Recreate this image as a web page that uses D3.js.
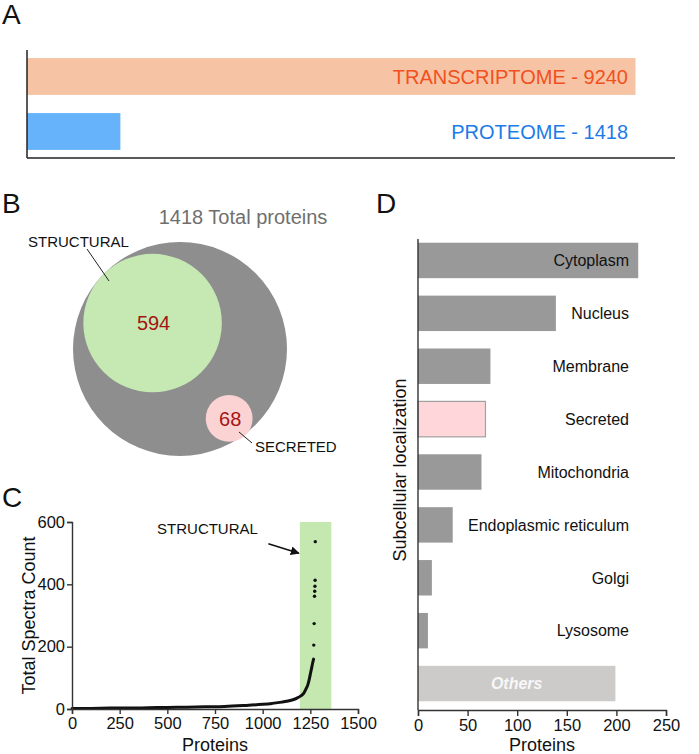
<!DOCTYPE html>
<html>
<head>
<meta charset="utf-8">
<script src="https://cdn.jsdelivr.net/npm/d3@7"></script>
<style>
  body { margin: 0; background: #fff; }
  svg { font-family: "Liberation Sans", Arial, Helvetica, sans-serif; }
  .axis path, .axis line { stroke: #333; stroke-width: 1.4; }
  .axis text { font-size: 16.5px; fill: #111; }
</style>
</head>
<body>
<div id="chart"></div>
<script>
// panel A
const omicsLabels = ["TRANSCRIPTOME", "PROTEOME"]
const omicsCounts = [9240, 1418]

// panel B
const vennNames = ["Total proteins", "STRUCTURAL", "SECRETED"]
const vennCounts = [1418, 594, 68]

// panel C (ranked proteins)
const spectraRank = [0, 100, 200, 300, 400, 500, 600, 700, 800, 900, 1000, 1050, 1100, 1150, 1180, 1200, 1215, 1228, 1238, 1246, 1252, 1258, 1263, 1267]
const spectraCount = [2, 2, 3, 3, 4, 5, 6, 7, 8, 11, 15, 18, 22, 28, 35, 42, 50, 65, 80, 100, 118, 135, 150, 160]
const outlierRank = [1268, 1270, 1272, 1273, 1274, 1275, 1276]
const outlierCount = [205, 274, 362, 378, 394, 413, 537]
const structuralRange = [1195, 1360]
const spectraXTicks = [0, 250, 500, 750, 1000, 1250, 1500]
const spectraYTicks = [0, 200, 400, 600]

// panel D
const locations = ["Cytoplasm", "Nucleus", "Membrane", "Secreted", "Mitochondria", "Endoplasmic reticulum", "Golgi", "Lysosome", "Others"]
const locationCounts = [222, 139, 73, 68, 64, 35, 14, 10, 199]
const locationTicks = [0, 50, 100, 150, 200, 250]

const width = 699
const height = 754

const svg = d3.select('#chart')
  .append('svg')
  .attr('width', width)
  .attr('height', height)

svg.append('defs').append('marker')
  .attr('id', 'arrow')
  .attr('viewBox', '0 0 10 10')
  .attr('refX', 9).attr('refY', 5)
  .attr('markerWidth', 9).attr('markerHeight', 9)
  .attr('markerUnits', 'userSpaceOnUse')
  .attr('orient', 'auto')
  .append('path')
  .attr('d', 'M0,0 L10,5 L0,10 z')
  .attr('fill', '#111')

function panelLabel(t, x, y) {
  svg.append('text').attr('x', x).attr('y', y)
    .attr('font-size', 28).attr('fill', '#111').text(t)
}

panelLabel('A', 2, 24)
panelLabel('B', 2, 213)
panelLabel('C', 2, 507)
panelLabel('D', 376, 213)

// ---------- A ----------
const xA = d3.scaleLinear().domain([0, 9840]).range([27, 675])
const yA = d3.scaleBand().domain(omicsLabels).range([50, 158])
  .paddingInner(0.33).paddingOuter(0.147)
const barColA = ["#f6c4a4", "#66b3fc"]
const txtColA = ["#f2501e", "#1c7be8"]

const gA = svg.append('g')
gA.selectAll('rect').data(omicsLabels).join('rect')
  .attr('x', xA(0))
  .attr('y', d => yA(d))
  .attr('width', (d, i) => xA(omicsCounts[i]) - xA(0))
  .attr('height', yA.bandwidth())
  .attr('fill', (d, i) => barColA[i])
gA.selectAll('text').data(omicsLabels).join('text')
  .attr('x', 628)
  .attr('y', d => yA(d) + yA.bandwidth() / 2)
  .attr('dy', '0.36em')
  .attr('text-anchor', 'end')
  .attr('font-size', 20)
  .attr('fill', (d, i) => txtColA[i])
  .text((d, i) => d + ' - ' + omicsCounts[i])
gA.append('line').attr('x1', 27).attr('x2', 27).attr('y1', 50).attr('y2', 158)
  .attr('stroke', '#222').attr('stroke-width', 1.5)
gA.append('line').attr('x1', 27).attr('x2', 675).attr('y1', 158).attr('y2', 158)
  .attr('stroke', '#222').attr('stroke-width', 1.5)

// ---------- B ----------
const rScale = d3.scaleSqrt().domain([0, vennCounts[0]]).range([0, 107])
const bigC = [180, 349]
const innerAngle = [null, -136.6, 54.7]
const vennFill = ["#8e8e8e", "#c6e9b4", "#fcd3d3"]
const vennNodes = vennCounts.map((v, i) => {
  const r = rScale(v)
  if (i === 0) return { name: vennNames[i], v, r, cx: bigC[0], cy: bigC[1] }
  const a = innerAngle[i] * Math.PI / 180
  const dist = rScale(vennCounts[0]) - r + (i === 2 ? 1.5 : 0)
  return { name: vennNames[i], v, r, cx: bigC[0] + dist * Math.cos(a), cy: bigC[1] + dist * Math.sin(a) }
})

const gB = svg.append('g')
gB.selectAll('circle').data(vennNodes).join('circle')
  .attr('cx', d => d.cx).attr('cy', d => d.cy).attr('r', d => d.r)
  .attr('fill', (d, i) => vennFill[i])
gB.selectAll('text.num').data(vennNodes.slice(1)).join('text')
  .attr('class', 'num')
  .attr('x', d => d.cx + 1)
  .attr('y', d => d.cy)
  .attr('dy', '0.36em')
  .attr('text-anchor', 'middle')
  .attr('font-size', 20)
  .attr('fill', '#a31515')
  .text(d => d.v)
gB.append('text').attr('x', 243).attr('y', 224).attr('text-anchor', 'middle')
  .attr('font-size', 20).attr('fill', '#6f6f6f')
  .text(vennCounts[0] + ' Total proteins')
gB.append('text').attr('x', 28).attr('y', 247).attr('font-size', 15).attr('fill', '#111').text(vennNames[1])
gB.append('line').attr('x1', 87).attr('y1', 249).attr('x2', 109).attr('y2', 281)
  .attr('stroke', '#222').attr('stroke-width', 1)
gB.append('text').attr('x', 255).attr('y', 452).attr('font-size', 15).attr('fill', '#111').text(vennNames[2])
gB.append('line').attr('x1', 239).attr('y1', 432).attr('x2', 252).attr('y2', 443)
  .attr('stroke', '#222').attr('stroke-width', 1)

// ---------- C ----------
const xC = d3.scaleLinear().domain([0, 1500]).range([72, 358])
const yC = d3.scaleLinear().domain([0, 600]).range([709, 522])
const gC = svg.append('g')

gC.append('rect')
  .attr('x', xC(structuralRange[0]))
  .attr('y', yC(600))
  .attr('width', xC(structuralRange[1]) - xC(structuralRange[0]))
  .attr('height', yC(0) - yC(600))
  .attr('fill', '#c5e8b0')

const curve = spectraRank.map((r, i) => [r, spectraCount[i]])
gC.append('path')
  .datum(curve)
  .attr('d', d3.line().x(d => xC(d[0])).y(d => yC(d[1])).curve(d3.curveMonotoneX))
  .attr('fill', 'none')
  .attr('stroke', '#111')
  .attr('stroke-width', 3)
  .attr('stroke-linecap', 'round')
gC.selectAll('circle').data(outlierRank).join('circle')
  .attr('cx', d => xC(d))
  .attr('cy', (d, i) => yC(outlierCount[i]))
  .attr('r', 1.7)
  .attr('fill', '#111')

gC.append('g').attr('class', 'axis')
  .attr('transform', `translate(0,${yC(0)})`)
  .call(d3.axisBottom(xC).tickValues(spectraXTicks).tickFormat(d3.format('d')).tickSize(5).tickPadding(3))
gC.append('g').attr('class', 'axis')
  .attr('transform', `translate(${xC(0)},0)`)
  .call(d3.axisLeft(yC).tickValues(spectraYTicks).tickFormat(d3.format('d')).tickSize(5).tickPadding(2))

gC.append('text').attr('x', (xC(0) + xC(1500)) / 2).attr('y', 751)
  .attr('text-anchor', 'middle').attr('font-size', 18).attr('fill', '#111').text('Proteins')
gC.append('text')
  .attr('transform', `translate(35,${(yC(0) + yC(600)) / 2}) rotate(-90)`)
  .attr('text-anchor', 'middle').attr('font-size', 18).attr('fill', '#111')
  .text('Total Spectra Count')

gC.append('text').attr('x', xC(975)).attr('y', yC(562))
  .attr('text-anchor', 'end').attr('font-size', 15).attr('fill', '#111').text('STRUCTURAL')
gC.append('line')
  .attr('x1', xC(1030)).attr('y1', yC(530))
  .attr('x2', xC(structuralRange[0]) - 1).attr('y2', yC(500))
  .attr('stroke', '#111').attr('stroke-width', 1.6)
  .attr('marker-end', 'url(#arrow)')

// ---------- D ----------
const xD = d3.scaleLinear().domain([0, 250]).range([418, 666])
const yD = d3.scaleBand().domain(locations).range([234, 710])
  .paddingInner(0.33).paddingOuter(0.165)
const gD = svg.append('g')

gD.selectAll('rect').data(locations).join('rect')
  .attr('x', xD(0))
  .attr('y', d => yD(d))
  .attr('width', (d, i) => xD(locationCounts[i]) - xD(0))
  .attr('height', yD.bandwidth())
  .attr('fill', d => d === 'Secreted' ? '#ffd7da' : d === 'Others' ? '#cdcaca' : '#999999')
  .attr('stroke', d => d === 'Secreted' ? '#a0a0a0' : 'none')
  .attr('stroke-width', 1.2)

gD.selectAll('text.lab').data(locations.filter(d => d !== 'Others')).join('text')
  .attr('class', 'lab')
  .attr('x', 629)
  .attr('y', d => yD(d) + yD.bandwidth() / 2)
  .attr('dy', '0.36em')
  .attr('text-anchor', 'end')
  .attr('font-size', 16)
  .attr('fill', '#111')
  .text(d => d)
gD.append('text')
  .attr('x', (xD(0) + xD(locationCounts[8])) / 2)
  .attr('y', yD('Others') + yD.bandwidth() / 2)
  .attr('dy', '0.36em')
  .attr('text-anchor', 'middle')
  .attr('font-size', 16).attr('font-weight', 'bold').attr('font-style', 'italic')
  .attr('fill', '#f7f7f7')
  .text('Others')

gD.append('line').attr('x1', xD(0)).attr('x2', xD(0)).attr('y1', 239).attr('y2', 710)
  .attr('stroke', '#333').attr('stroke-width', 1.4)
gD.append('g').attr('class', 'axis')
  .attr('transform', `translate(0,710)`)
  .call(d3.axisBottom(xD).tickValues(locationTicks).tickSize(6).tickPadding(3))

gD.append('text').attr('x', (xD(0) + xD(250)) / 2).attr('y', 751)
  .attr('text-anchor', 'middle').attr('font-size', 18).attr('fill', '#111').text('Proteins')
gD.append('text')
  .attr('transform', `translate(406,470) rotate(-90)`)
  .attr('text-anchor', 'middle').attr('font-size', 18).attr('fill', '#111')
  .text('Subcellular localization')
</script>
</body>
</html>
